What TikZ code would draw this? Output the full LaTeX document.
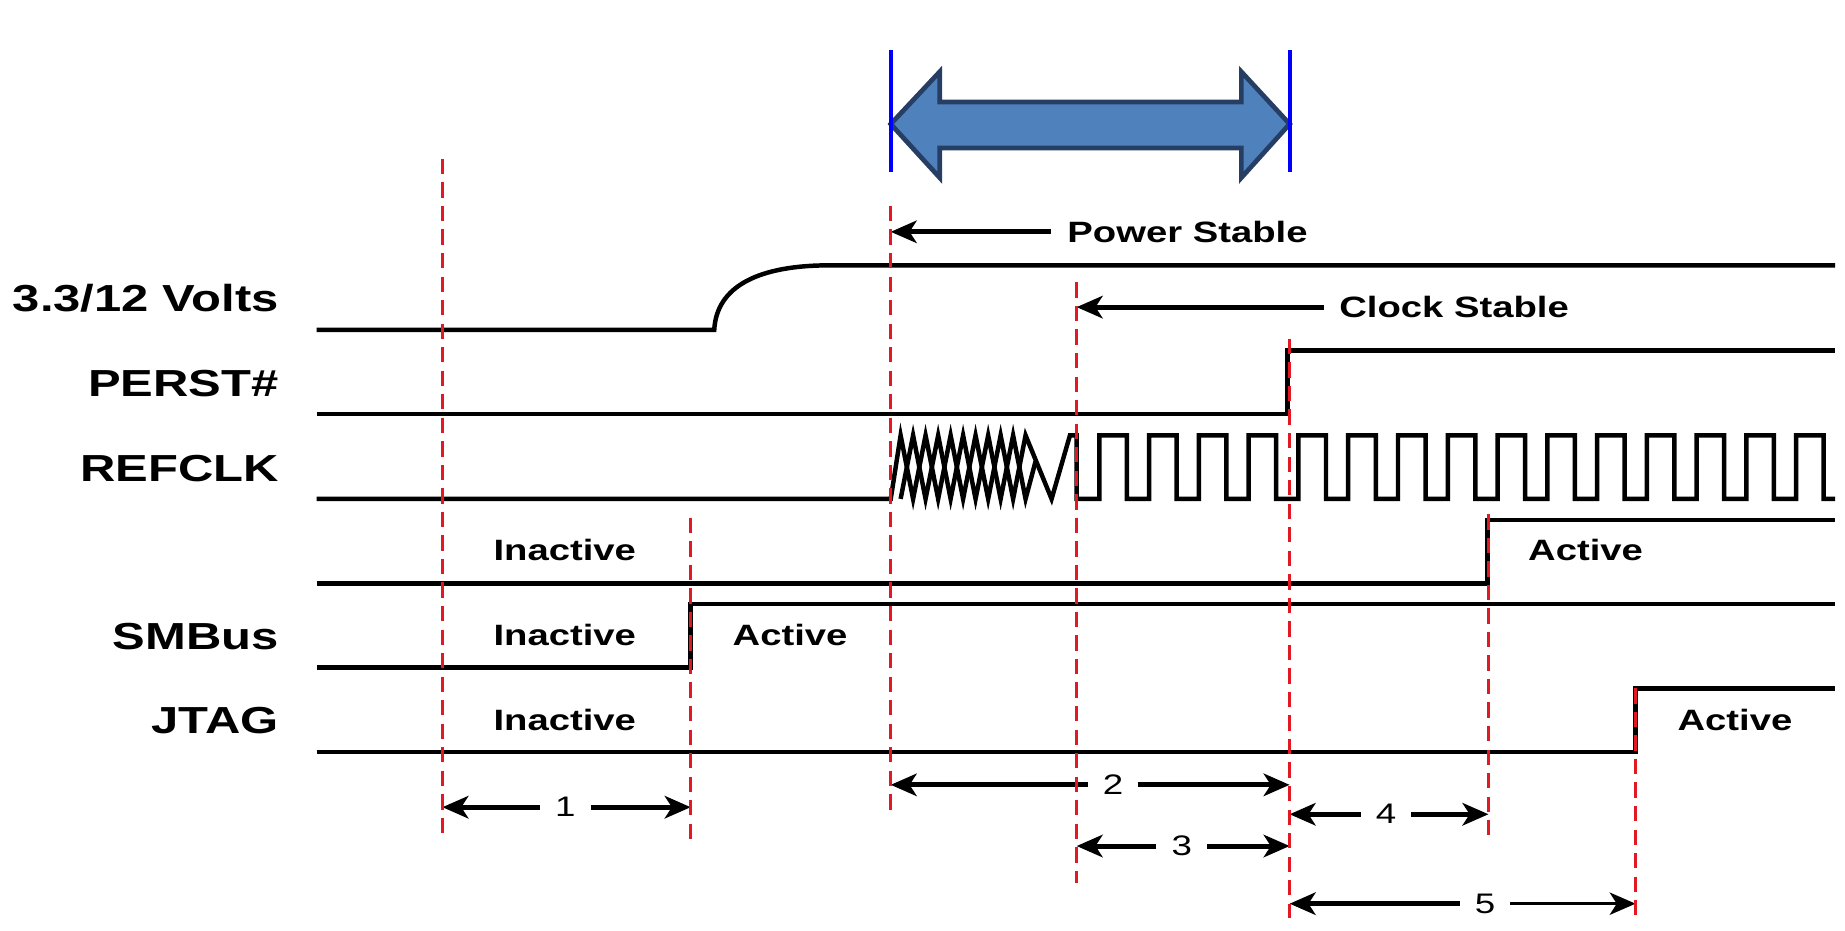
\documentclass[tikz,border=0pt]{standalone}
\usepackage{fontspec}
\setmainfont{Liberation Sans}[FakeStretch=1.3]
\usetikzlibrary{arrows.meta}
\definecolor{dashred}{RGB}{225,25,35}
\definecolor{arrowfill}{RGB}{79,129,189}
\definecolor{arrowedge}{RGB}{38,62,100}
\definecolor{markblue}{RGB}{0,0,255}
\begin{document}
\begin{tikzpicture}[x=1pt,y=-1pt,
  sig/.style={line width=3.8pt},
  tmark/.style={dashred, line width=2.8pt, dash pattern=on 13pt off 7pt},
  dim/.style={line width=4.2pt, -{Stealth[length=22pt,width=19pt,inset=6pt]}},
  thindim/.style={line width=2.2pt, -{Stealth[length=22pt,width=19pt,inset=6pt]}},
  lbl/.style={font=\bfseries\fontsize{25}{30}\selectfont, inner sep=0pt},
  signame/.style={font=\bfseries\fontsize{32}{36}\selectfont, anchor=base east, inner sep=0pt},
  num/.style={font=\fontsize{24}{28}\selectfont, inner sep=0pt},
  bigarrow/.style={fill=arrowfill, draw=arrowedge, line width=4pt, line join=miter},
  bluemark/.style={markblue, line width=3.6pt}]
\useasboundingbox (0,0) rectangle (1568,790.4);
% time coordinates
\coordinate (t1) at (376,0);
\coordinate (t2) at (587,0);
\coordinate (t3) at (757,0);
\coordinate (t4) at (915,0);
\coordinate (t5) at (1096,0);
\coordinate (t6) at (1265,0);
\coordinate (t7) at (1390,0);

% big double arrow
\draw[bigarrow] (757,105.4) -- (798.6,61) -- (798.6,86.7) -- (1055,86.7) -- (1055,61)
  -- (1096,105.4) -- (1055,151) -- (1055,125.7) -- (798.6,125.7) -- (798.6,151) -- cycle;
\draw[bluemark] (t3 |- 0,42.5) -- (t3 |- 0,146);
\draw[bluemark] (t5 |- 0,42.5) -- (t5 |- 0,146);

% signal names
\node[signame] (vlab) at (237,265.1) {3.3/12 Volts};
\node[signame] (plab) at (237,337.2) {PERST\#};
\node[signame] (rlab) at (237,409.4) {REFCLK};
\node[signame] (slab) at (237,551.9) {SMBus};
\node[signame] (jlab) at (237,623.4) {JTAG};

% waveforms
\draw[sig] (269,280.4) -- (607,280.4) .. controls (609,243) and (645,225.5) .. (705,225.5) -- (1559.5,225.5);
\draw[sig] (269,352) -- (1094,352) -- (1094,298) -- (1559.5,298);
% REFCLK
\draw[sig] (269,424) -- (757,424) -- (765.4,370) -- (776.0,424) -- (786.6,370) -- (797.3,424)
  -- (807.9,370) -- (818.5,424) -- (829.1,370) -- (839.8,424) -- (850.4,370) -- (861.0,424)
  -- (871.6,370) -- (893.7,424) -- (909.3,370) -- (915,370) -- (915,424) -- (934.3,424)
  \foreach \k in {0,...,14} { -- ({934.3+42.3*\k},424) -- ({934.3+42.3*\k},370)
    -- ({957.7+42.3*\k},370) -- ({957.7+42.3*\k},424) } -- (1559.5,424);
\draw[sig] (765.4,424) -- (776,370) -- (786.6,424) -- (797.3,370) -- (807.9,424) -- (818.5,370)
  -- (829.1,424) -- (839.8,370) -- (850.4,424) -- (861.0,370) -- (871.6,424) -- (880.1,392);
% unnamed row
\draw[sig] (269,495.7) -- (1264,495.7) -- (1264,441.7) -- (1559.5,441.7);
% SMBus
\draw[sig] (269,567.4) -- (587,567.4) -- (587,513.4) -- (1559.5,513.4);
% JTAG
\draw[sig] (269,639.2) -- (1390,639.2) -- (1390,585.2) -- (1559.5,585.2);

% state labels
\node[lbl] (ina1) at (480,467) {Inactive};
\node[lbl] (act1) at (1347.5,467) {Active};
\node[lbl] (ina2) at (480,540) {Inactive};
\node[lbl] (act2) at (671.5,540) {Active};
\node[lbl] (ina3) at (480,612) {Inactive};
\node[lbl] (act3) at (1474.5,612) {Active};

% stable labels
\node[lbl, anchor=west] (ps) at (907,197) {Power Stable};
\node[lbl, anchor=west] (cs) at (1138,261) {Clock Stable};
\draw[dim] ([xshift=-14pt]ps.west) -- (ps.west -| t3);
\draw[dim] ([xshift=-13pt]cs.west) -- (cs.west -| t4);

% interval arrows
\node[num] (n1) at (480.5,686) {1};
\draw[dim] ([xshift=-21.5pt]n1.center) -- (n1.center -| t1);
\draw[dim] ([xshift=21.5pt]n1.center) -- (n1.center -| t2);
\node[num] (n2) at (946,667) {2};
\draw[dim] ([xshift=-21.5pt]n2.center) -- (n2.center -| t3);
\draw[dim] ([xshift=21.5pt]n2.center) -- (n2.center -| t5);
\node[num] (n3) at (1004.3,719) {3};
\draw[dim] ([xshift=-21.5pt]n3.center) -- (n3.center -| t4);
\draw[dim] ([xshift=21.5pt]n3.center) -- (n3.center -| t5);
\node[num] (n4) at (1178,692) {4};
\draw[dim] ([xshift=-21.5pt]n4.center) -- (n4.center -| t5);
\draw[dim] ([xshift=21.5pt]n4.center) -- (n4.center -| t6);
\node[num] (n5) at (1262,768) {5};
\draw[dim] ([xshift=-21.5pt]n5.center) -- (n5.center -| t5);
\draw[thindim] ([xshift=21.5pt]n5.center) -- (n5.center -| t7);

% time markers
\draw[tmark] (t1 |- 0,135) -- (t1 |- 0,715);
\draw[tmark] (t2 |- 0,440) -- (t2 |- 0,715);
\draw[tmark] (t3 |- 0,175) -- (t3 |- 0,695);
\draw[tmark] (t4 |- 0,240) -- (t4 |- 0,750);
\draw[tmark] (t5 |- 0,288) -- (t5 |- 0,780);
\draw[tmark] (t6 |- 0,437) -- (t6 |- 0,715);
\draw[tmark] (t7 |- 0,585) -- (t7 |- 0,785);
\end{tikzpicture}
\end{document}
